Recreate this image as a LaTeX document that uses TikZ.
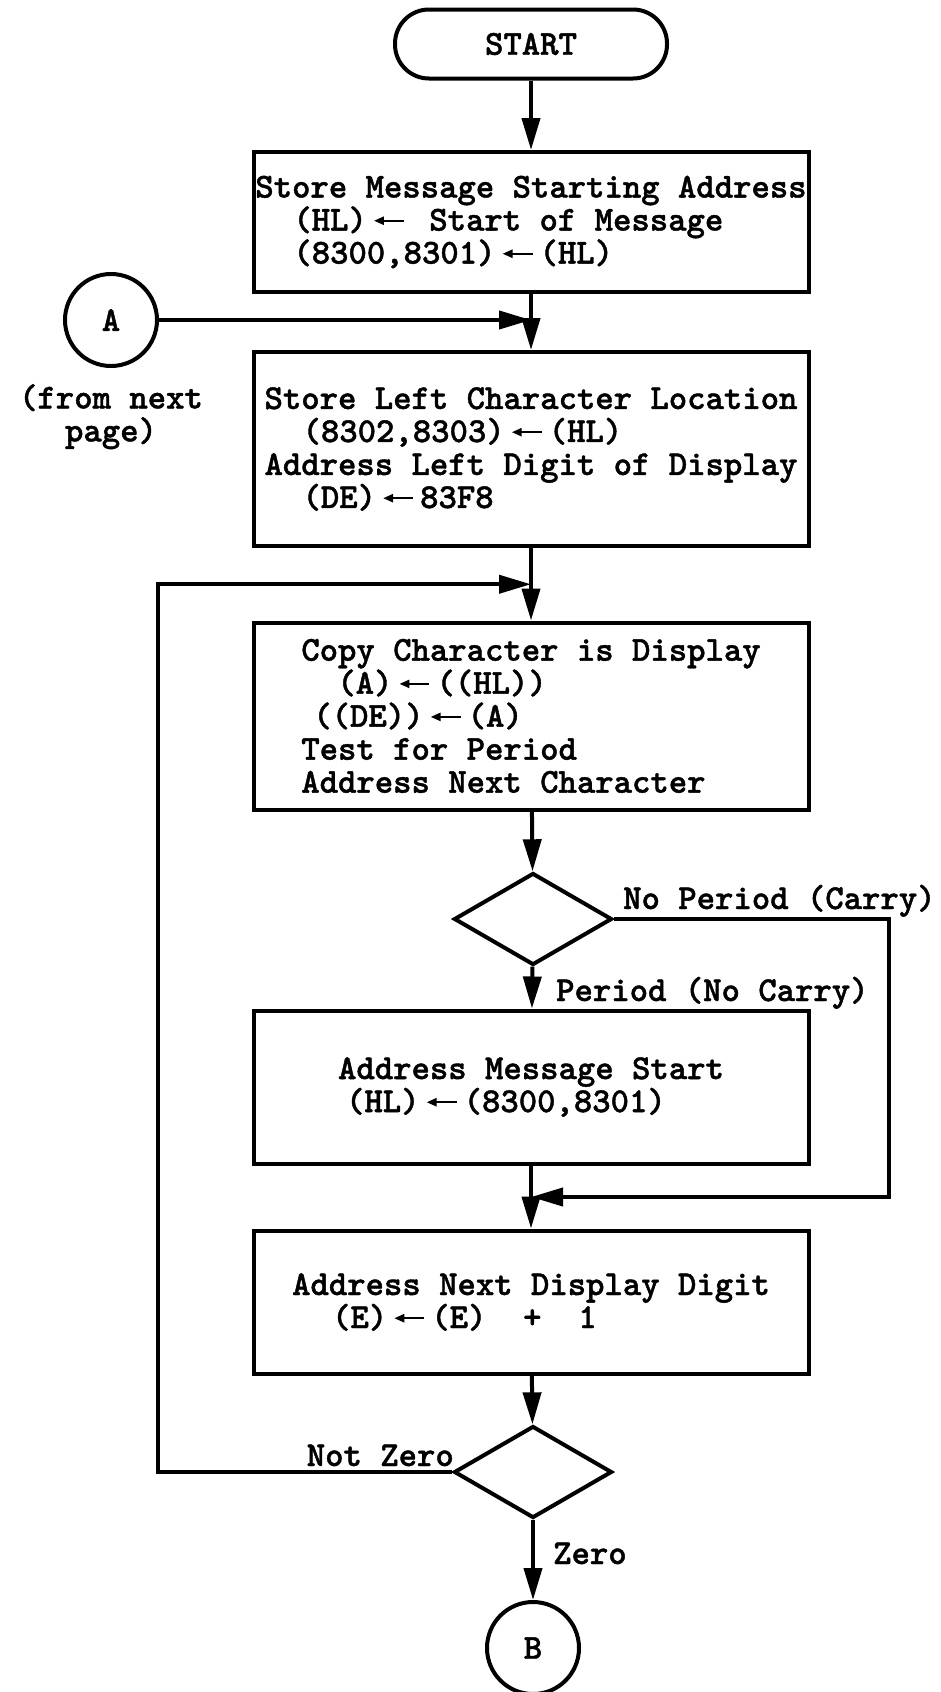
\documentclass[tikz,border=0pt]{standalone}
\usepackage{fontspec}
\newfontfamily\flowtt{lmmonolt10-bold}[Extension=.otf,FakeBold=1.2]
\usetikzlibrary{arrows.meta,shapes.geometric,positioning,calc}

\newcommand{\flowfont}{\flowtt\fontsize{35}{33}\selectfont}
\newcommand{\getsarrow}{\,\tikz[baseline=-0.28em]\draw[line width=2.4pt,{Triangle[length=10pt,width=8pt]}-] (0pt,0pt) -- (30pt,0pt);\,}
\newcommand{\ind}[1]{\hspace*{#1}}

\tikzset{
  flowbox/.style={draw,line width=4pt,minimum width=555pt,inner sep=0pt,align=left,font=\flowfont},
  terminal/.style={draw,line width=4pt,rounded corners=34pt,minimum width=272pt,minimum height=69pt,font=\flowfont},
  decision/.style={draw,diamond,line width=4pt,inner sep=0pt,minimum width=158pt,minimum height=92pt},
  connector/.style={draw,circle,line width=4pt,minimum size=92pt,inner sep=0pt,font=\flowfont},
  flowlabel/.style={inner sep=0pt,font=\flowfont},
  flow/.style={line width=4pt,-{Triangle[length=32pt,width=18pt]}}
}

\begin{document}
\begin{tikzpicture}[x=1pt,y=-1pt]
  \useasboundingbox (0,0) rectangle (941,1692);

  \node[terminal] (start) at (531,44) {START};
  \node[flowbox,minimum height=140pt] (store) at (531,222)
    {Store Message Starting Address\\
     \ind{38pt}(HL)\getsarrow{} Start of Message\\
     \ind{38pt}(8300,8301)\getsarrow{}(HL)};
  \node[connector] (conA) at (111,320) {A};
  \node[flowlabel,align=center,below=16pt of conA] (fromnext) {(from next\\page)};
  \node[flowbox,minimum height=194pt] (left) at (531,449)
    {Store Left Character Location\\
     \ind{38pt}(8302,8303)\getsarrow{}(HL)\\
     Address Left Digit of Display\\
     \ind{38pt}(DE)\getsarrow{}83F8};
  \node[flowbox,minimum height=187pt] (copy) at (531,716)
    {Copy Character is Display\\
     \ind{36pt}(A)\getsarrow{}((HL))\\
     \ind{12pt}((DE))\getsarrow{}(A)\\
     Test for Period\\
     Address Next Character};
  \node[decision] (period) at (533,919) {};
  \node[flowbox,minimum height=153pt] (msgstart) at (531,1087)
    {Address Message Start\\
     \ind{8pt}(HL)\getsarrow{}(8300,8301)};
  \node[flowbox,minimum height=143pt] (nextdigit) at (531,1302)
    {Address Next Display Digit\\
     \ind{40pt}(E)\getsarrow{}(E)\ \ +\ \ 1};
  \node[decision] (zero) at (533,1472) {};
  \node[connector] (conB) at (533,1648) {B};

  % junctions on the main line
  \coordinate (joinA) at ($(store.south)!0.5!(left.north)$);
  \coordinate (joinloop) at ($(left.south)!0.5!(copy.north)$);
  \coordinate (joincarry) at ($(msgstart.south)!0.5!(nextdigit.north)$);
  \coordinate (carryright) at (889,919);
  \coordinate (loopleft) at (158,1472);

  \draw[flow] (start) -- (store);
  \draw[flow] (store) -- (left);
  \draw[flow] (conA) -- (conA -| joinA);
  \draw[flow] (left) -- (copy);
  \draw[flow] (zero.west) -- (loopleft) |- (joinloop);
  \draw[flow] (copy) -- (period);
  \draw[flow] (period) -- (msgstart);
  \draw[flow] (period.east) -- (carryright) |- (joincarry);
  \draw[flow] (msgstart) -- (nextdigit);
  \draw[flow] (nextdigit) -- (zero);
  \draw[flow] (zero) -- (conB);

  \node[flowlabel,anchor=base west] (nocarry) at ($(period.east)+(9,-10)$) {No Period (Carry)};
  \node[flowlabel,anchor=base west] (carry) at ($(period.south)+(23,34)$) {Period (No Carry)};
  \node[flowlabel,anchor=base east] (notzero) at ($(zero.west)+(2,-6)$) {Not Zero};
  \node[flowlabel,anchor=base west] (iszero) at ($(zero.south)+(20,44)$) {Zero};
\end{tikzpicture}
\end{document}
